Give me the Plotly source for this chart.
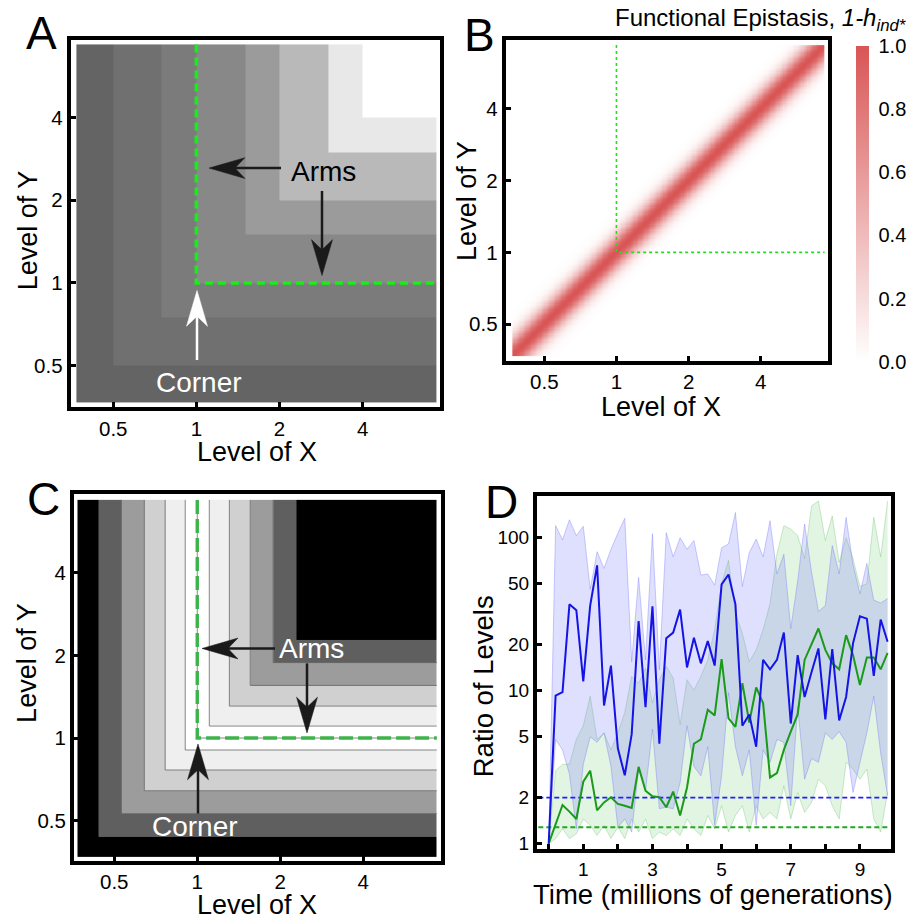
import numpy as np
import plotly.graph_objects as go

W, H = 914, 922
FONT = "Liberation Sans, Arial, sans-serif"

# ---------------- data ----------------
# common grid extent of the level maps (X and Y levels)
grid_lo, grid_hi = float(np.exp(-1)), float(np.exp(2))
corner = 1.0
level_ticks = [0.5, 1, 2, 4]
level_ticktext = ["0.5", "1", "2", "4"]

# Panel A: bands of min(X, Y)
A_levels = [0.5, 0.75, 1.0, 1.5, 2.0, 3.0, 4.0]
A_shades = ["#646464", "#707070", "#7b7b7b", "#888888", "#9b9b9b", "#b9b9b9", "#e8e8e8", "#ffffff"]

# Panel B: functional epistasis along the diagonal
B_width = 0.25          # log2 width of the ridge
B_colors = ["#ffffff", "#d95555"]
B_cbar_ticks = [0.0, 0.2, 0.4, 0.6, 0.8, 1.0]

# Panel C: bands of log2(min(X, Y)), symmetric about the arms
C_offsets = [0.145, 0.387, 0.638, 0.914, 1.195]
C_shades = ["#ffffff", "#efefef", "#d0d0d0", "#9c9c9c", "#5f5f5f", "#000000"]

# Panel D: ratio of levels over time (millions of generations)
time = [round(0.2 * k, 1) for k in range(50)]
blue = [1.0, 9.3, 9.8, 36.7, 33.6, 11.5, 36, 66, 8.0, 14.6, 4.2, 2.8, 5.2, 28.5, 7.8, 35.6, 4.5,
        22, 24, 33.9, 14.2, 22.2, 15.1, 21.1, 14.6, 49.5, 57.5, 36.7, 5.9, 7.0, 4.3, 15.9, 13.8,
        15.9, 24, 6.1, 17.1, 9.1, 13.2, 18.9, 6.5, 18.7, 6.4, 9.1, 20.4, 30.7, 29.6, 12.5, 29.2, 20.9]
blue_hi = [1, 120, 97, 131, 103, 119, 46, 81, 63, 84, 107, 134, 15.5, 55, 15.9, 106, 13.7, 108, 75,
           100, 84, 96, 57, 58, 49, 86, 91, 146, 48, 80, 98, 75, 129, 58, 78, 25.5, 52, 123, 60, 33,
           36, 89, 58, 136, 67, 43, 68, 39, 37.5, 40]
blue_lo = [1, 4.8, 4.1, 2.85, 1.25, 3.3, 5.0, 4.6, 5.3, 3.2, 1.28, 1.45, 1.19, 3.07, 2.22, 5.6, 1.69,
           1.73, 1.69, 2.5, 5.9, 3.2, 2.78, 4.3, 1.32, 2.78, 9.7, 4.3, 2.78, 4.1, 1.32, 4.1, 3.4, 4.8,
           4.6, 1.77, 7.9, 2.64, 3.6, 3.4, 5.3, 4.8, 5.4, 4.6, 2.16, 3.4, 5.3, 9.2, 3.9, 2.06]
green = [1.0, 1.32, 1.79, 1.62, 1.45, 2.54, 3.0, 1.65, 1.86, 2.01, 1.82, 1.77, 1.71, 3.18, 2.22, 2.04,
         2.01, 1.73, 2.19, 1.53, 2.33, 4.5, 4.8, 7.5, 6.9, 16.1, 6.6, 5.8, 11.2, 6.2, 10.5, 8.3, 2.71,
         2.89, 4.1, 5.4, 7.0, 15.9, 20.2, 25.5, 18.5, 15.1, 13.8, 23.1, 17.1, 10.9, 16.5, 16.5, 13.8, 17.7]
green_hi = [1, 3.0, 3.3, 3.3, 4.8, 5.9, 9.2, 4.8, 5.3, 4.1, 5.3, 7.2, 12.4, 11.2, 14, 8.3, 11.8, 14.4,
            12.1, 6.0, 11.8, 10.1, 12.4, 15.9, 25, 50, 71, 32, 23.7, 15.5, 18.5, 25, 37, 78, 120, 114,
            103, 73, 161, 174, 96, 139, 69, 100, 73, 48, 50, 136, 75, 174]
green_lo = [1, 1.08, 1.25, 1.08, 1.16, 1.45, 1.32, 1.13, 1.32, 1.08, 1.28, 1.08, 1.45, 1.19, 1.45,
            1.08, 1.19, 1.13, 1.25, 1.13, 1.45, 1.25, 1.13, 1.53, 1.25, 1.77, 1.19, 1.53, 1.77, 1.19,
            1.77, 1.45, 1.6, 1.45, 2.39, 1.45, 2.16, 1.6, 1.86, 2.64, 2.39, 1.77, 1.45, 3.4, 3.07,
            2.64, 3.07, 1.45, 1.19, 2.16]
ref_blue, ref_green = 2.0, 1.28
ref_span = [-0.3, 9.8]
D_yticks = [1, 2, 5, 10, 20, 50, 100]
D_xticks = [1, 3, 5, 7, 9]
D_xminor = [0, 2, 4, 6, 8]


# ---------------- helpers ----------------
def X(px):
    return px / W


def Y(py):
    return 1 - py / H


def dom_x(l, r):
    return [X(l), X(r)]


def dom_y(t, b):
    return [Y(b), Y(t)]


def discrete_scale(colors):
    n = len(colors)
    cs = []
    for k, c in enumerate(colors):
        cs.append([k / n, c])
        cs.append([(k + 1) / n, c])
    return cs


fig = go.Figure()

# ---- Panel A
a_edges = [grid_lo] + A_levels + [grid_hi]
nA = len(a_edges) - 1
zA = [[min(i, j) for i in range(nA)] for j in range(nA)]
fig.add_trace(go.Heatmap(x=a_edges, y=a_edges, z=zA, zmin=-0.5, zmax=len(A_shades) - 0.5,
                         colorscale=discrete_scale(A_shades), showscale=False, hoverinfo="skip",
                         xaxis="x", yaxis="y"))
fig.add_trace(go.Scatter(x=[corner, corner, grid_hi], y=[grid_hi, corner, corner], mode="lines",
                         line=dict(color="#14f014", width=3.6, dash="8px,5px"),
                         xaxis="x", yaxis="y", hoverinfo="skip"))

# ---- Panel B
nB = 260
b_edges = np.logspace(np.log10(grid_lo), np.log10(grid_hi), nB + 1)
b_cent = np.sqrt(b_edges[:-1] * b_edges[1:])
gx, gy = np.meshgrid(b_cent, b_cent)
zB = np.exp(-(np.log2(gy / gx) / B_width) ** 2)
fig.add_trace(go.Heatmap(x=b_edges, y=b_edges, z=zB, zmin=0, zmax=1,
                         colorscale=[[0, B_colors[0]], [1, B_colors[1]]], hoverinfo="skip",
                         colorbar=dict(x=X(856), xanchor="left", thickness=13, lenmode="pixels",
                                       len=316, y=Y(205), yanchor="middle", ypad=0, xpad=0,
                                       outlinewidth=0, tickvals=B_cbar_ticks,
                                       ticktext=["%.1f" % v for v in B_cbar_ticks],
                                       ticks="outside", ticklen=6, tickcolor="rgba(0,0,0,0)",
                                       tickfont=dict(size=20, family=FONT, color="black")),
                         xaxis="x2", yaxis="y2"))
fig.add_trace(go.Scatter(x=[corner, corner, grid_hi], y=[grid_hi, corner, corner], mode="lines",
                         line=dict(color="#22dd22", width=1.6, dash="3px,3px"),
                         xaxis="x2", yaxis="y2", hoverinfo="skip"))

# ---- Panel C
c_logs = [-o for o in C_offsets[::-1]] + C_offsets
c_edges = [grid_lo] + [2 ** v for v in c_logs] + [grid_hi]
nC = len(c_edges) - 1
mid = len(C_offsets)
zC = [[abs(min(i, j) - mid) for i in range(nC)] for j in range(nC)]
fig.add_trace(go.Heatmap(x=c_edges, y=c_edges, z=zC, zmin=-0.5, zmax=len(C_shades) - 0.5,
                         colorscale=discrete_scale(C_shades), showscale=False, hoverinfo="skip",
                         xaxis="x3", yaxis="y3"))
for v in [-o for o in C_offsets[-2::-1]] + [0.0] + C_offsets[:-1]:
    m = 2 ** v
    fig.add_trace(go.Scatter(x=[m, m, grid_hi], y=[grid_hi, m, m], mode="lines",
                             line=dict(color="#6a6a6a", width=0.8),
                             xaxis="x3", yaxis="y3", hoverinfo="skip"))
fig.add_trace(go.Scatter(x=[corner, corner, grid_hi], y=[grid_hi, corner, corner], mode="lines",
                         line=dict(color="#3cb44a", width=3.4, dash="14px,5px"),
                         xaxis="x3", yaxis="y3", hoverinfo="skip"))

# ---- Panel D
def band(lo, hi, fillc, edgec):
    fig.add_trace(go.Scatter(x=time, y=lo, mode="lines", line=dict(color=edgec, width=1),
                             xaxis="x4", yaxis="y4", hoverinfo="skip"))
    fig.add_trace(go.Scatter(x=time, y=hi, mode="lines", line=dict(color=edgec, width=1),
                             fill="tonexty", fillcolor=fillc, xaxis="x4", yaxis="y4", hoverinfo="skip"))


band(green_lo, green_hi, "rgba(110,200,110,0.20)", "rgba(90,185,90,0.30)")
band(blue_lo, blue_hi, "rgba(110,110,250,0.22)", "rgba(110,110,250,0.35)")
fig.add_trace(go.Scatter(x=ref_span, y=[ref_blue, ref_blue], mode="lines",
                         line=dict(color="#2020ff", width=1.8, dash="5px,3px"),
                         xaxis="x4", yaxis="y4", hoverinfo="skip"))
fig.add_trace(go.Scatter(x=ref_span, y=[ref_green, ref_green], mode="lines",
                         line=dict(color="#22a822", width=1.8, dash="5px,3px"),
                         xaxis="x4", yaxis="y4", hoverinfo="skip"))
fig.add_trace(go.Scatter(x=time, y=green, mode="lines", line=dict(color="#1a9a1a", width=2),
                         xaxis="x4", yaxis="y4", hoverinfo="skip"))
fig.add_trace(go.Scatter(x=time, y=blue, mode="lines", line=dict(color="#1414e6", width=2),
                         xaxis="x4", yaxis="y4", hoverinfo="skip"))


# ---------------- axes ----------------
def base_axis(dom, rng, fs):
    return dict(domain=dom, range=rng, ticks="inside", ticklen=5, tickwidth=3, tickcolor="black",
                showline=True, linewidth=4, linecolor="black", mirror=True, showgrid=False,
                zeroline=False, tickfont=dict(size=fs, color="black", family=FONT))


def level_axis(dom, rng):
    d = base_axis(dom, rng, 20.5)
    d.update(type="log", tickvals=level_ticks, ticktext=level_ticktext)
    return d


layout = dict(
    width=W, height=H, margin=dict(l=0, r=0, t=0, b=0), paper_bgcolor="white",
    plot_bgcolor="white", showlegend=False, font=dict(family=FONT, color="black"),
    xaxis=level_axis(dom_x(70.7, 440), [-0.455, 0.882]),
    yaxis=level_axis(dom_y(40.7, 409.3), [-0.452, 0.883]),
    xaxis2=level_axis(dom_x(505.7, 828.3), [-0.462, 0.884]),
    yaxis2=level_axis(dom_y(40.7, 362.7), [-0.454, 0.888]),
    xaxis3=level_axis(dom_x(74, 441), [-0.447, 0.884]),
    yaxis3=level_axis(dom_y(496.7, 865.3), [-0.447, 0.890]),
)
layout["xaxis"]["anchor"] = "y"
layout["yaxis"]["anchor"] = "x"
layout["xaxis2"]["anchor"] = "y2"
layout["yaxis2"]["anchor"] = "x2"
layout["xaxis3"]["anchor"] = "y3"
layout["yaxis3"]["anchor"] = "x3"
xa4 = base_axis(dom_x(537, 890.5), [-0.338, 9.884], 19)
xa4.update(anchor="y4", tickvals=D_xticks, ticktext=[str(t) for t in D_xticks],
           minor=dict(tickvals=D_xminor, ticks="inside", ticklen=5, tickwidth=3, tickcolor="black",
                      showgrid=False))
ya4 = base_axis(dom_y(499, 853.5), [-0.034, 2.271], 19)
ya4.update(anchor="x4", type="log", tickvals=D_yticks, ticktext=[str(t) for t in D_yticks])
layout["xaxis4"] = xa4
layout["yaxis4"] = ya4
fig.update_layout(**layout)

# ---------------- annotations ----------------
ann = []


def text(px, py, s, size, color="black", angle=0, xanchor="center"):
    ann.append(dict(x=X(px), y=Y(py), xref="paper", yref="paper", text=s, showarrow=False,
                    font=dict(size=size, color=color, family=FONT), textangle=angle,
                    xanchor=xanchor, yanchor="middle"))


# panel letters
text(41, 33, "A", 46)
text(480, 35, "B", 46)
text(43, 502, "C", 46)
text(501, 505, "D", 46)
# axis titles
for (px, py) in [(257, 454), (661, 409), (257, 910)]:
    text(px, py, "Level of X", 27)
for (px, py) in [(27.5, 232), (467, 202), (27.5, 667)]:
    text(px, py, "Level of Y", 27, angle=-90)
text(713, 899, "Time (millions of generations)", 27.5)
text(483, 690, "Ratio of Levels", 27.5, angle=-90)
# B colorbar title
text(908, 20, "Functional Epistasis, <i>1-h</i><sub><i>ind*</i></sub>", 24, xanchor="right")
# arms / corner labels
text(323, 172, "Arms", 28)
text(199, 385, "Corner", 28, color="white")
text(311, 652, "Arms", 28, color="white")
text(195, 831, "Corner", 28, color="white")
fig.update_layout(annotations=ann)

# ---------------- arrows ----------------
shapes = []


def arrow(tail, tip, color, L=36, Wd=21, notch=0.72, lw=2.5):
    tx, ty = tail
    hx, hy = tip
    dx, dy = hx - tx, hy - ty
    d = (dx * dx + dy * dy) ** 0.5
    ux, uy = dx / d, dy / d
    nx, ny = -uy, ux
    b1 = (hx - L * ux + Wd / 2 * nx, hy - L * uy + Wd / 2 * ny)
    b2 = (hx - L * ux - Wd / 2 * nx, hy - L * uy - Wd / 2 * ny)
    nt = (hx - notch * L * ux, hy - notch * L * uy)
    shapes.append(dict(type="line", xref="paper", yref="paper", x0=X(tx), y0=Y(ty),
                       x1=X(nt[0]), y1=Y(nt[1]), line=dict(color=color, width=lw)))
    pts = [tip, b1, nt, b2]
    path = "M" + " L".join("%.5f,%.5f" % (X(p[0]), Y(p[1])) for p in pts) + " Z"
    shapes.append(dict(type="path", xref="paper", yref="paper", path=path,
                       fillcolor=color, line=dict(color=color, width=0.5)))


arrow((281, 169), (209, 169), "#1a1a1a")
arrow((322, 192), (322, 277), "#1a1a1a")
arrow((197, 362), (197, 292), "white")
arrow((275, 652), (202, 652), "#1a1a1a")
arrow((307, 667), (307, 737), "#1a1a1a")
arrow((198, 818), (198, 748), "#1a1a1a")
fig.update_layout(shapes=shapes)

fig.write_html("out.html")
